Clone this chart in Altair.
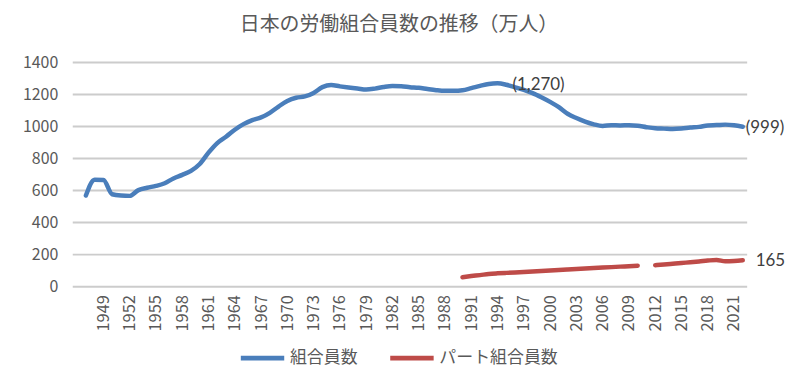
import altair as alt
import pandas as pd

years_all = list(range(1947, 2023))
union_members = [569, 668, 666, 577, 569, 567, 603, 618, 629, 646,
                 676, 698, 723, 766, 837, 897, 936, 980, 1015, 1040,
                 1057, 1086, 1125, 1160, 1180, 1188, 1210, 1246, 1259, 1251,
                 1244, 1238, 1231, 1237, 1247, 1253, 1252, 1246, 1242, 1234,
                 1227, 1223, 1223, 1227, 1240, 1254, 1266, 1270, 1261, 1245,
                 1229, 1209, 1183, 1154, 1121, 1080, 1053, 1031, 1014, 1004,
                 1008, 1007, 1008, 1005, 996, 989, 987, 985, 988, 994,
                 998, 1007, 1009, 1012, 1008, 999]

years_part = list(range(1990, 2023))
part_members = [59, 66, 72, 79, 83, 86, 89, 92, 95, 98,
                101, 104, 107, 110, 113, 116, 119, 122, 125, 128,
                131, None, 134, 138, 143, 148, 152, 157, 163, 167,
                158, 160, 165]

series_names = ["組合員数", "パート組合員数"]
series_colors = ["#4A7EBB", "#BE4B48"]
tick_years = list(range(1949, 2022, 3))
y_ticks = list(range(0, 1401, 200))

rows = []
for y, v in zip(years_all, union_members):
    rows.append({"year": y, "value": v, "series": series_names[0], "seg": "a0"})
seg = 0
for y, v in zip(years_part, part_members):
    if v is None:
        seg += 1
        continue
    rows.append({"year": y, "value": v, "series": series_names[1], "seg": f"b{seg}"})
df = pd.DataFrame(rows)

labels = pd.DataFrame([
    {"year": 1994, "value": 1270, "text": "(1,270)"},
    {"year": 2022, "value": union_members[-1], "text": f"({union_members[-1]})"},
    {"year": 2022, "value": part_members[-1], "text": f"{part_members[-1]}"},
])
grid_df = pd.DataFrame({"value": y_ticks})

FONT = "Noto Sans CJK JP"
GREY = "#595959"

x_scale = alt.Scale(domain=[1945.5, 2022.5], nice=False, zero=False)
y_scale = alt.Scale(domain=[0, 1400], nice=False)

x_enc = alt.X("year:Q", scale=x_scale,
              axis=alt.Axis(values=tick_years, labelAngle=-90, format="d",
                            grid=False, ticks=False, domain=False, title=None,
                            labelFont=FONT, labelFontSize=16.5, labelColor=GREY,
                            labelPadding=8, labelAlign="right", labelBaseline="middle",
                            labelOverlap=False, labelFlush=False))
y_enc = alt.Y("value:Q", scale=y_scale,
              axis=alt.Axis(values=y_ticks, grid=False, ticks=False,
                            domain=False, title=None, format="d",
                            labelFont=FONT, labelFontSize=16, labelColor=GREY,
                            labelPadding=15, labelOverlap=False, labelFlush=False))

grid = alt.Chart(grid_df).mark_rule(color="#CCCCCC", strokeWidth=2, opacity=1).encode(
    y=y_enc,
    x=alt.value(0),
    x2=alt.value(677),
)

lines = alt.Chart(df).mark_line(strokeWidth=4.5, interpolate="monotone",
                                strokeCap="round", strokeJoin="round").encode(
    x=x_enc,
    y=y_enc,
    color=alt.Color("series:N",
                    scale=alt.Scale(domain=series_names, range=series_colors),
                    legend=alt.Legend(title=None, orient="none", direction="horizontal",
                                      legendX=166, legendY=272,
                                      symbolType="stroke", symbolStrokeWidth=5,
                                      symbolSize=1900, labelFont=FONT,
                                      labelFontSize=17, labelColor=GREY,
                                      labelOffset=3, columnPadding=22)),
    detail="seg:N",
)


def label_layer(i, dx, dy):
    return alt.Chart(labels.iloc[[i]]).mark_text(
        align="left", baseline="middle", dx=dx, dy=dy,
        font="Lato", fontSize=17, color="#404040").encode(
        x=x_enc, y=y_enc, text="text:N")


chart = alt.layer(grid, lines, label_layer(0, 15, 2), label_layer(1, 3, 1),
                  label_layer(2, 13, 1)).properties(
    width=677, height=225,
    background="white",
    title=alt.TitleParams("日本の労働組合員数の推移（万人）", font=FONT, fontSize=20,
                          fontWeight="normal", color=GREY, anchor="middle",
                          dx=-11, offset=4, baseline="alphabetic"),
    autosize=alt.AutoSizeParams(type="none"),
    padding={"left": 65, "top": 54, "right": 40, "bottom": 95},
).configure_view(stroke=None).configure_axis(labelOverlap=False)

chart.save("out.html", embed_options={"renderer": "svg", "actions": False})
